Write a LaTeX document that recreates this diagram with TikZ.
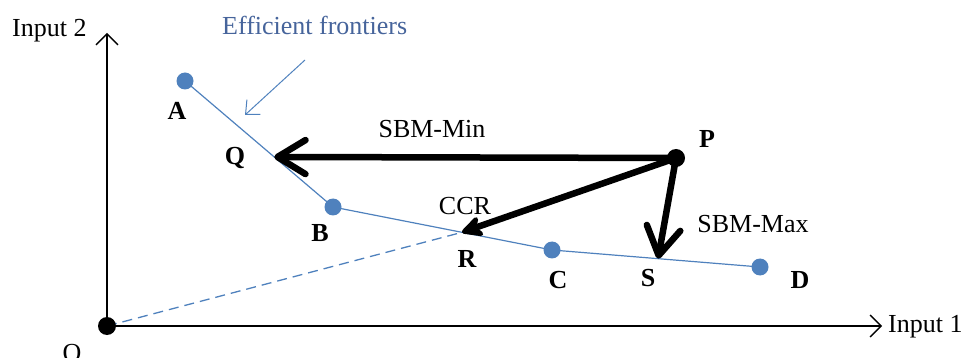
\documentclass[tikz,border=0pt]{standalone}
\usepackage{fontspec}
\setmainfont{Liberation Serif}
\usetikzlibrary{arrows.meta,calc}
\definecolor{frontblue}{RGB}{79,129,189}
\definecolor{labelblue}{RGB}{70,100,155}
\begin{document}
\begin{tikzpicture}[x=1pt,y=-1pt,
  txt/.style={font=\fontsize{26}{30}\selectfont, inner sep=0pt, anchor=base},
  lbl/.style={font=\fontsize{26}{30}\selectfont\bfseries, inner sep=0pt, anchor=base},
  bluedot/.style={circle, fill=frontblue, inner sep=0pt, minimum size=17pt},
  blackdot/.style={circle, fill=black, inner sep=0pt, minimum size=18pt},
  axisline/.style={line width=1.4pt, -{Straight Barb[length=11pt,width=22pt,line width=1.4pt]}},
  frontline/.style={frontblue, line width=1.2pt},
  rayline/.style={frontblue, line width=1.3pt, dash pattern=on 10pt off 6pt},
  bigarrow/.style={line width=6.5pt, -{Straight Barb[length=28pt,width=34pt,line width=6.5pt,round]}},
  ccrarrow/.style={line width=6.5pt, -{Stealth[length=26pt,width=26pt,inset=8pt,round]}},
  notearrow/.style={frontblue, line width=1pt, -{Straight Barb[length=11pt,width=20pt,line width=1pt]}}]
\useasboundingbox (0,0) rectangle (980,358);
% points
\coordinate (ytip) at (107,33);
\coordinate (xtip) at (882,326);
\coordinate (Oc) at (107,326);
\coordinate (noteS) at (305,60);
\coordinate (noteE) at (245,115);
% axes
\draw[axisline] (Oc) -- (ytip);
\draw[axisline] (Oc) -- (xtip);
% frontier dots
\node[bluedot] (A) at (185,81) {};
\node[bluedot] (B) at (333,207) {};
\node[bluedot] (C) at (552,250) {};
\node[bluedot] (D) at (760,267) {};
\coordinate (Q) at ($(A.center)!0.603!(B.center)$);
\coordinate (R) at ($(B.center)!0.589!(C.center)$);
\coordinate (S) at ($(C.center)!0.51!(D.center)$);
% frontier and ray
\draw[frontline] (A.center) -- (Q) -- (B.center) -- (R) -- (C.center) -- (S) -- (D.center);
\draw[rayline] (Oc) -- (R);
\node[blackdot] (O) at (Oc) {};
\node[blackdot] (P) at (676,158) {};
% projections
\draw[bigarrow] (P.center) -- (Q);
\draw[ccrarrow] (P.center) -- (R);
\draw[bigarrow] (P.center) -- (S);
\draw[notearrow] (noteS) -- (noteE);
% texts
\node[txt, anchor=base west] (in2) at (12,37) {Input 2};
\node[txt, anchor=base west] (in1) at (888,332) {Input 1};
\node[txt, anchor=base west, text=labelblue] (eff) at (222,35) {Efficient frontiers};
\node[txt] (sbmmin) at (432,138) {SBM-Min};
\node[txt] (ccr) at (465,215) {CCR};
\node[txt] (sbmmax) at (753,233) {SBM-Max};
\node[lbl] (lA) at (177,120) {A};
\node[lbl] (lQ) at (235,165) {Q};
\node[lbl] (lP) at (707,148) {P};
\node[lbl] (lB) at (320,242) {B};
\node[lbl] (lR) at (467,267) {R};
\node[lbl] (lC) at (558,288) {C};
\node[lbl] (lS) at (648,287) {S};
\node[lbl] (lD) at (800,288) {D};
\node[txt] (lO) at (72,361) {O};
\end{tikzpicture}
\end{document}
